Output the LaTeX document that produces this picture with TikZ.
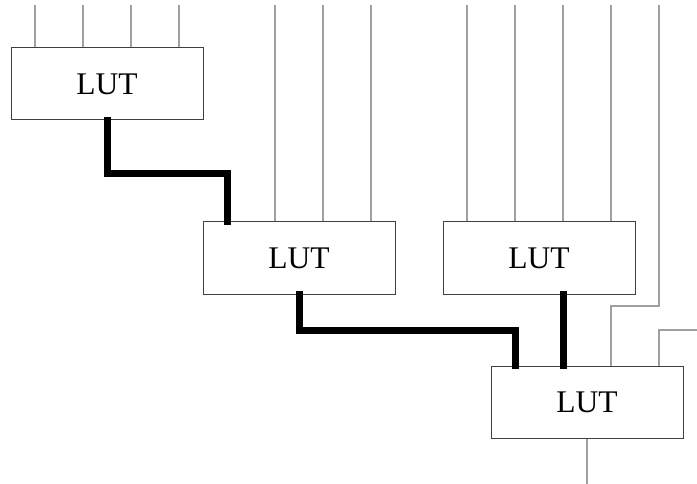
\documentclass[tikz,border=0pt]{standalone}
\usepackage{fontspec}
\setmainfont{Liberation Serif}
\definecolor{wiregrey}{HTML}{A0A0A0}
\definecolor{boxgrey}{HTML}{404040}
\begin{document}
\begin{tikzpicture}[x=1pt,y=-1pt,
  lut/.style={draw=boxgrey,line width=1pt,minimum width=192pt,minimum height=72pt,inner sep=0pt,fill=white,font=\fontsize{31.5}{36}\selectfont},
  wire/.style={draw=wiregrey,line width=1.3pt},
  bus/.style={draw=black,line width=7pt,line cap=rect}]
\useasboundingbox (0,0) rectangle (697,484);
% boxes
\node[lut] (b1) at (107,84) {LUT};
\node[lut] (b2) at (299,258) {LUT};
\node[lut] (b3) at (539,258) {LUT};
\node[lut] (b4) at (587,402) {LUT};
% free ends
\foreach \x [count=\i] in {35,83,131,179} {\coordinate (a\i) at (\x,5);}
\foreach \x [count=\i] in {275,323,371} {\coordinate (c\i) at (\x,5);}
\foreach \x [count=\i] in {467,515,563,611} {\coordinate (d\i) at (\x,5);}
\coordinate (e1) at (659,5);
\coordinate (e1b) at (659,306);
\coordinate (e2) at (697,330);
\coordinate (out) at (587,484);
% grey wires
\foreach \i in {1,...,4} {\draw[wire] (a\i) -- (a\i |- b1.north);}
\foreach \i in {1,...,3} {\draw[wire] (c\i) -- (c\i |- b2.north);}
\foreach \i in {1,...,4} {\draw[wire] (d\i) -- (d\i |- b3.north);}
\draw[wire] (e1) -- (e1b) -- (611,306) -- (611,0 |- b4.north);
\draw[wire] (e2) -- (659,330) -- (659,0 |- b4.north);
\draw[wire] (b4.south) -- (out);
% thick buses
\draw[bus] (b1.south) -- (107,174) -- (227,174) -- (227,0 |- b2.north);
\draw[bus] (b2.south) -- (299,330) -- (515,330) -- (515,0 |- b4.north);
\draw[bus] (563,0 |- b3.south) -- (563,0 |- b4.north);
\end{tikzpicture}
\end{document}
